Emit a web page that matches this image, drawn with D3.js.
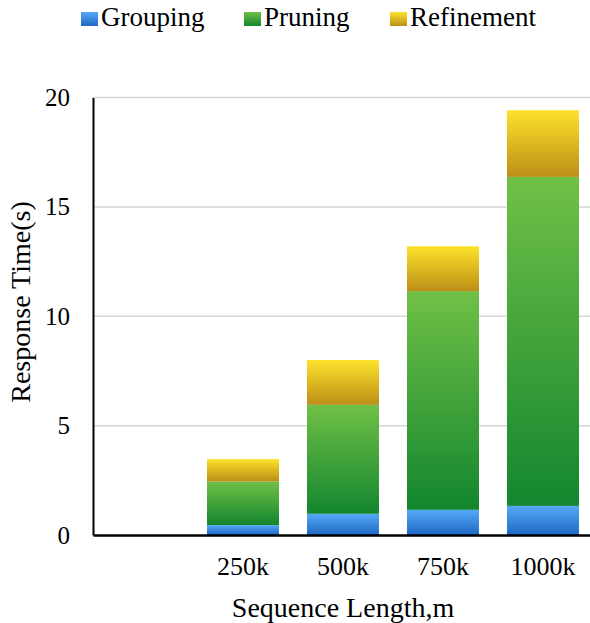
<!DOCTYPE html>
<html>
<head>
<meta charset="utf-8">
<script src="https://cdn.jsdelivr.net/npm/d3@7"></script>
<style>
  html, body { margin: 0; padding: 0; background: #fff; }
  svg { display: block; font-family: "Liberation Serif", "Times New Roman", serif; }
</style>
</head>
<body>
<svg id="chart" width="590" height="623"></svg>
<script>
// Sequence lengths (first slot intentionally left empty on the axis)
const categories = ["", "250k", "500k", "750k", "1000k"];
// Time spent in each phase, seconds (stacked)
const grouping   = [0, 0.45, 0.97, 1.15, 1.33];
const pruning    = [0, 2.0, 4.98, 10.0, 15.04];
const refinement = [0, 1.02, 2.05, 2.05, 3.05];
const seriesNames = ["Grouping", "Pruning", "Refinement"];
const yTicks = [0, 5, 10, 15, 20];

// top / bottom gradient stops for each phase
const palette = {
  Grouping:   ["#55a9f7", "#1f68c4"],
  Pruning:    ["#70c046", "#13862f"],
  Refinement: ["#fde22b", "#bc8f17"]
};

const svg = d3.select("#chart");
const margin = { left: 93, top: 97.5, right: -3, bottom: 88 };
const W = 590 - margin.left - margin.right;
const H = 623 - margin.top - margin.bottom;

const defs = svg.append("defs");
seriesNames.forEach(name => {
  const g = defs.append("linearGradient")
    .attr("id", "grad-" + name)
    .attr("x1", 0).attr("y1", 0).attr("x2", 0).attr("y2", 1);
  g.append("stop").attr("offset", "0%").attr("stop-color", palette[name][0]);
  g.append("stop").attr("offset", "100%").attr("stop-color", palette[name][1]);
});

const rows = categories.map((c, i) => ({
  category: c,
  Grouping: grouping[i],
  Pruning: pruning[i],
  Refinement: refinement[i]
}));

const stack = d3.stack().keys(seriesNames)(rows);

const x = d3.scaleBand().domain(categories).range([0, W])
  .paddingInner(0.28).paddingOuter(0.14);
const y = d3.scaleLinear().domain([0, 20]).range([H, 0]);

const plot = svg.append("g").attr("transform", `translate(${margin.left},${margin.top})`);

// horizontal gridlines
plot.append("g").selectAll("line")
  .data(yTicks.filter(t => t > 0))
  .join("line")
  .attr("x1", 0).attr("x2", W)
  .attr("y1", d => y(d)).attr("y2", d => y(d))
  .attr("stroke", "#d6d6d6").attr("stroke-width", 1.5);

// stacked bars
plot.append("g").selectAll("g")
  .data(stack)
  .join("g")
  .attr("fill", d => `url(#grad-${d.key})`)
  .selectAll("rect")
  .data(d => d.filter(s => s[1] - s[0] > 0).map(s => ({ s, cat: s.data.category })))
  .join("rect")
  .attr("x", d => x(d.cat))
  .attr("width", x.bandwidth())
  .attr("y", d => y(d.s[1]))
  .attr("height", d => y(d.s[0]) - y(d.s[1]));

const serif = "Liberation Serif, Times New Roman, serif";

// y axis
const yAxis = plot.append("g")
  .call(d3.axisLeft(y).tickValues(yTicks).tickSize(0).tickPadding(23));
yAxis.select(".domain").attr("stroke", "#000").attr("stroke-width", 2);
yAxis.selectAll("text")
  .attr("font-size", 25).attr("fill", "#000")
  .attr("font-family", serif);

// x axis
const xAxis = plot.append("g")
  .attr("transform", `translate(0,${H})`)
  .call(d3.axisBottom(x).tickSize(0).tickPadding(22));
xAxis.select(".domain").attr("stroke", "#000").attr("stroke-width", 2.5);
xAxis.selectAll("text")
  .attr("font-size", 26).attr("fill", "#000")
  .attr("font-family", serif);

// axis titles
svg.append("text")
  .attr("x", margin.left + W / 2)
  .attr("y", 617)
  .attr("text-anchor", "middle")
  .attr("font-size", 28)
  .text("Sequence Length,m");

svg.append("text")
  .attr("transform", "translate(30,302) rotate(-90)")
  .attr("text-anchor", "middle")
  .attr("font-size", 28)
  .text("Response Time(s)");

// legend
const legendX = [81, 244, 390];
const legend = svg.append("g").selectAll("g")
  .data(seriesNames)
  .join("g")
  .attr("transform", (d, i) => `translate(${legendX[i]},0)`);
legend.append("rect")
  .attr("x", 0).attr("y", 12).attr("width", 17).attr("height", 14)
  .attr("fill", d => `url(#grad-${d})`);
legend.append("text")
  .attr("x", 20).attr("y", 26)
  .attr("font-size", 27)
  .text(d => d);
</script>
</body>
</html>
